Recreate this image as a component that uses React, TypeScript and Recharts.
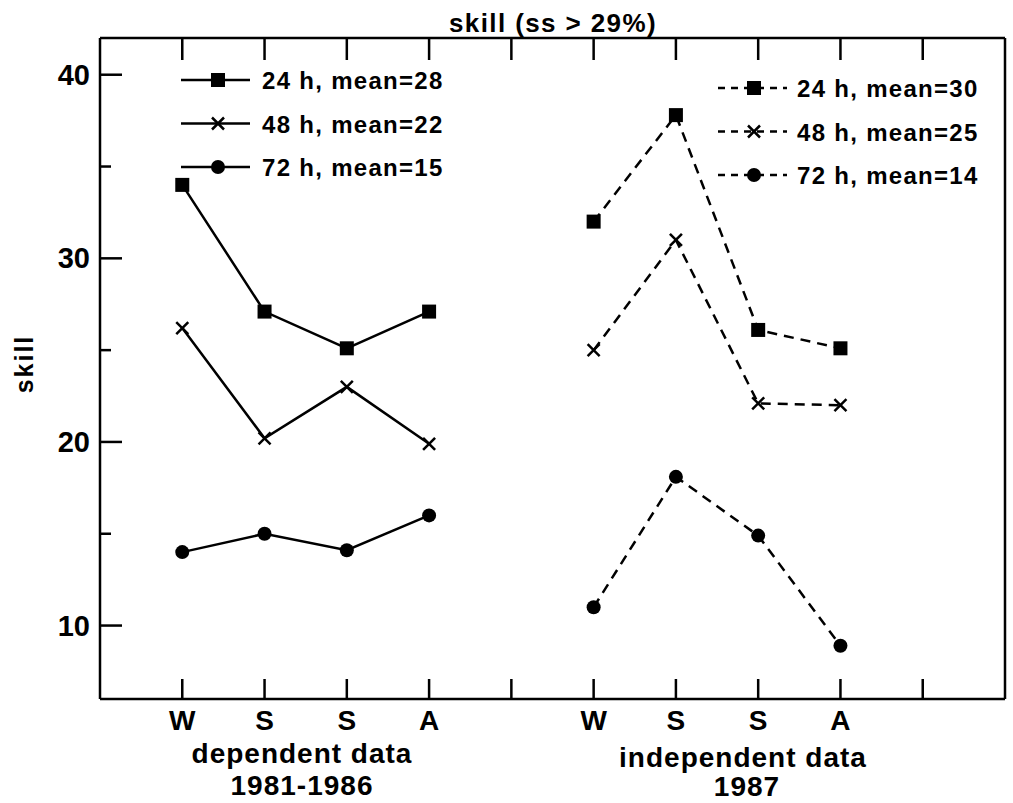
import React from 'react';
import { LineChart, Line, XAxis, YAxis, Legend } from 'recharts';

// x positions: 0..3 dependent seasons, 5..8 independent seasons
const depPositions = [0, 1, 2, 3];
const indPositions = [5, 6, 7, 8];
const xTicks = [0, 1, 2, 3, 4, 5, 6, 7, 8, 9];
const xTickLabels = ['W', 'S', 'S', 'A', '', 'W', 'S', 'S', 'A', ''];
const yTicks = [10, 15, 20, 25, 30, 35, 40];
const yLabeled = [10, 20, 30, 40];

const dep24 = [34.0, 27.1, 25.1, 27.1];
const dep48 = [26.2, 20.2, 23.0, 19.9];
const dep72 = [14.0, 15.0, 14.1, 16.0];
const ind24 = [32.0, 37.8, 26.1, 25.1];
const ind48 = [25.0, 31.0, 22.1, 22.0];
const ind72 = [11.0, 18.1, 14.9, 8.9];

const depNames = ['24 h, mean=28', '48 h, mean=22', '72 h, mean=15'];
const indNames = ['24 h, mean=30', '48 h, mean=25', '72 h, mean=14'];
const shapes = ['square', 'cross', 'circle'];

const tableData = [
  ...depPositions.map((x, i) => ({ x, dep24: dep24[i], dep48: dep48[i], dep72: dep72[i] })),
  ...indPositions.map((x, i) => ({ x, ind24: ind24[i], ind48: ind48[i], ind72: ind72[i] })),
];

const FONT = '"Liberation Sans", Arial, Helvetica, sans-serif';
const INK = '#000';
const LINE_DASH = '10 7';

const drawMarker = (shape: string, cx: number, cy: number, key: string) => {
  if (shape === 'square') {
    return <rect key={key} x={cx - 7} y={cy - 7} width={14} height={14} fill={INK} />;
  }
  if (shape === 'cross') {
    return (
      <g key={key} stroke={INK} strokeWidth={2.5}>
        <line x1={cx - 6} y1={cy - 6} x2={cx + 6} y2={cy + 6} />
        <line x1={cx - 6} y1={cy + 6} x2={cx + 6} y2={cy - 6} />
      </g>
    );
  }
  return <circle key={key} cx={cx} cy={cy} r={7} fill={INK} />;
};

const marker = (shape: string) => (p: any) => {
  const { cx, cy, index, value } = p;
  if (value == null || cx == null || cy == null || isNaN(cy)) return <g key={`e-${shape}-${index}`} />;
  return drawMarker(shape, cx, cy, `m-${shape}-${index}`);
};

const LeftTick = (p: any) => {
  const { x, y, payload } = p;
  const major = yLabeled.includes(payload.value);
  return (
    <g>
      <line x1={x} y1={y} x2={x + (major ? 22 : 11)} y2={y} stroke={INK} strokeWidth={2.5} />
      {major && (
        <text x={x - 10} y={y + 10} textAnchor="end" fontFamily={FONT} fontWeight="bold" fontSize={29} fill={INK}>
          {payload.value}
        </text>
      )}
    </g>
  );
};

const RightTick = (p: any) => {
  const { x, y, payload } = p;
  const major = yLabeled.includes(payload.value);
  return <line x1={x} y1={y} x2={x - (major ? 18 : 9)} y2={y} stroke={INK} strokeWidth={2.5} />;
};

const BottomTick = (p: any) => {
  const { x, y, payload, index } = p;
  return (
    <g>
      <line x1={x} y1={y} x2={x} y2={y - 20} stroke={INK} strokeWidth={2.5} />
      <text x={x} y={y + 31} textAnchor="middle" fontFamily={FONT} fontWeight="bold" fontSize={28} fill={INK}>
        {xTickLabels[index] ?? xTickLabels[payload.value]}
      </text>
    </g>
  );
};

const TopTick = (p: any) => {
  const { x, y } = p;
  return <line x1={x} y1={y} x2={x} y2={y + 22} stroke={INK} strokeWidth={2.5} />;
};

const legendRow = (
  key: string, x0: number, x1: number, mx: number, tx: number, y: number,
  shape: string, dashed: boolean, name: string,
) => (
  <g key={key}>
    <line x1={x0} y1={y} x2={x1} y2={y} stroke={INK} strokeWidth={2.5} strokeDasharray={dashed ? '7 6' : undefined} />
    {drawMarker(shape, mx, y, `${key}-m`)}
    <text x={tx} y={y + 9} fontFamily={FONT} fontWeight="bold" fontSize={24} letterSpacing={1.3} fill={INK}>
      {name}
    </text>
  </g>
);

const renderLegend = () => (
  <svg width={1013} height={200} style={{ display: 'block' }}>
    {depNames.map((name, i) => legendRow(`dl${i}`, 181, 250, 218, 262, 80 + i * 43.5, shapes[i], false, name))}
    {indNames.map((name, i) => legendRow(`il${i}`, 718, 787, 754, 797, 88 + i * 43.5, shapes[i], true, name))}
  </svg>
);

const axisLine = { stroke: INK, strokeWidth: 2.5 };

export default function App() {
  return (
    <div style={{ position: 'absolute', left: 0, top: 0, width: 1013, height: 803, background: '#fff' }}>
      <LineChart width={1013} height={803} data={tableData} margin={{ top: 0, right: 0, bottom: 0, left: 0 }}>
        <XAxis
          xAxisId="bottom" type="number" dataKey="x" domain={[-1, 10]} ticks={xTicks} interval={0}
          height={104} tickSize={0} tickMargin={0} tickLine={false} axisLine={axisLine} tick={BottomTick}
        />
        <XAxis
          xAxisId="top" orientation="top" type="number" dataKey="x" domain={[-1, 10]} ticks={xTicks} interval={0}
          height={38} tickSize={0} tickMargin={0} tickLine={false} axisLine={axisLine} tick={TopTick}
        />
        <YAxis
          yAxisId="left" type="number" domain={[6, 42]} ticks={yTicks} interval={0}
          width={100} tickSize={0} tickMargin={0} tickLine={false} axisLine={axisLine} tick={LeftTick}
        />
        <YAxis
          yAxisId="right" orientation="right" type="number" domain={[6, 42]} ticks={yTicks} interval={0}
          width={8} tickSize={0} tickMargin={0} tickLine={false} axisLine={axisLine} tick={RightTick}
        />
        <Legend
          layout="horizontal" verticalAlign="middle" align="center" content={renderLegend}
          wrapperStyle={{ left: 0, top: 0, width: 1013, height: 200 }}
        />
        <Line xAxisId="bottom" yAxisId="left" dataKey="dep24" name={depNames[0]} stroke={INK} strokeWidth={2.5} dot={marker('square')} activeDot={false} isAnimationActive={false} />
        <Line xAxisId="bottom" yAxisId="left" dataKey="dep48" name={depNames[1]} stroke={INK} strokeWidth={2.5} dot={marker('cross')} activeDot={false} isAnimationActive={false} />
        <Line xAxisId="bottom" yAxisId="left" dataKey="dep72" name={depNames[2]} stroke={INK} strokeWidth={2.5} dot={marker('circle')} activeDot={false} isAnimationActive={false} />
        <Line xAxisId="bottom" yAxisId="left" dataKey="ind24" name={indNames[0]} stroke={INK} strokeWidth={2.5} strokeDasharray={LINE_DASH} dot={marker('square')} activeDot={false} isAnimationActive={false} />
        <Line xAxisId="bottom" yAxisId="left" dataKey="ind48" name={indNames[1]} stroke={INK} strokeWidth={2.5} strokeDasharray={LINE_DASH} dot={marker('cross')} activeDot={false} isAnimationActive={false} />
        <Line xAxisId="bottom" yAxisId="left" dataKey="ind72" name={indNames[2]} stroke={INK} strokeWidth={2.5} strokeDasharray={LINE_DASH} dot={marker('circle')} activeDot={false} isAnimationActive={false} />
      </LineChart>
      <svg width={1013} height={803} style={{ position: 'absolute', left: 0, top: 0, pointerEvents: 'none' }}>
        <g fontFamily={FONT} fontWeight="bold" fill={INK} textAnchor="middle">
          <text x={553} y={32} fontSize={26} letterSpacing={1.4}>skill (ss &gt; 29%)</text>
          <text transform="translate(33 364) rotate(-90)" fontSize={25} letterSpacing={2}>skill</text>
          <text x={302} y={763} fontSize={28} letterSpacing={1}>dependent data</text>
          <text x={302} y={795} fontSize={28} letterSpacing={1}>1981-1986</text>
          <text x={743} y={767} fontSize={28} letterSpacing={1}>independent data</text>
          <text x={747} y={796} fontSize={28} letterSpacing={1}>1987</text>
        </g>
      </svg>
    </div>
  );
}
